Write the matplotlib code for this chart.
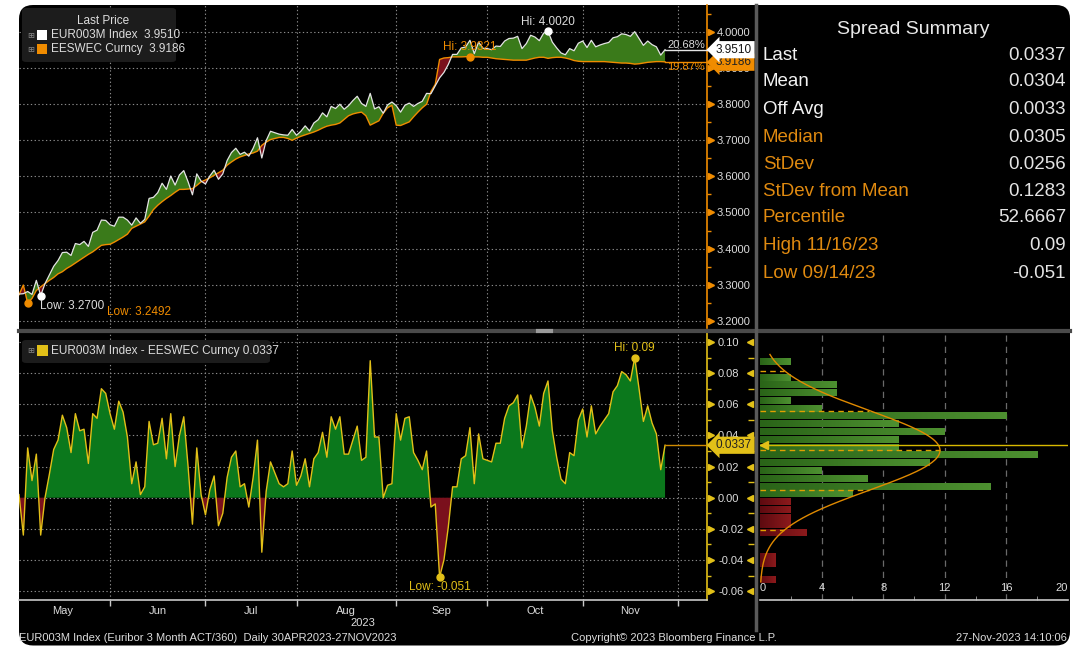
import numpy as np
import pandas as pd
import matplotlib
matplotlib.use("Agg")
import matplotlib.pyplot as plt
from matplotlib.patches import FancyBboxPatch, Rectangle
from matplotlib.lines import Line2D
import matplotlib.transforms as mtransforms
from matplotlib.colors import LinearSegmentedColormap

plt.rcParams['font.family'] = ['Liberation Sans', 'DejaVu Sans']

# ---------------- data ----------------
dates = pd.bdate_range('2023-05-02', '2023-11-27')   # 150 business days

spread = [
    0.002, -0.024, 0.032, 0.011, 0.028, -0.024, 0.000, 0.015, 0.031, 0.037,
    0.053, 0.045, 0.029, 0.054, 0.043, 0.044, 0.022, 0.054, 0.051, 0.070,
    0.067, 0.054, 0.044, 0.062, 0.055, 0.039, 0.009, 0.023, 0.002, 0.007,
    0.049, 0.034, 0.035, 0.051, 0.025, 0.054, 0.020, 0.040, 0.052, 0.020,
    -0.017, 0.032, 0.002, -0.011, 0.005, 0.014, -0.018, -0.010, 0.013, 0.026,
    0.030, 0.007, 0.009, -0.006, 0.013, 0.037, -0.035, 0.004, 0.023, 0.016,
    0.009, 0.007, 0.009, 0.030, 0.008, 0.014, 0.025, 0.007, 0.025, 0.029,
    0.042, 0.026, 0.052, 0.044, 0.052, 0.028, 0.028, 0.037, 0.046, 0.024,
    0.026, 0.088, 0.039, 0.039, 0.000, 0.008, 0.009, 0.054, 0.037, 0.051,
    0.052, 0.029, 0.024, 0.018, 0.030, -0.006, -0.004, -0.051, -0.040, -0.019,
    0.007, 0.007, 0.025, 0.027, 0.045, 0.009, 0.041, 0.025, 0.024, 0.023,
    0.035, 0.035, 0.051, 0.059, 0.061, 0.066, 0.032, 0.046, 0.066, 0.058,
    0.046, 0.067, 0.075, 0.043, 0.026, 0.012, 0.009, 0.029, 0.027, 0.050,
    0.057, 0.039, 0.059, 0.041, 0.046, 0.050, 0.054, 0.068, 0.072, 0.081,
    0.079, 0.075, 0.090, 0.070, 0.049, 0.059, 0.048, 0.041, 0.018, 0.0337,
]

eeswec = [
    3.272, 3.299, 3.2492, 3.262, 3.284, 3.294, 3.303, 3.312, 3.320, 3.330,
    3.336, 3.345, 3.352, 3.360, 3.368, 3.376, 3.384, 3.391, 3.400, 3.409,
    3.411, 3.412, 3.418, 3.425, 3.432, 3.440, 3.456, 3.462, 3.468, 3.474,
    3.490, 3.508, 3.520, 3.530, 3.539, 3.547, 3.556, 3.564, 3.564, 3.565,
    3.566, 3.575, 3.585, 3.590, 3.596, 3.603, 3.610, 3.617, 3.631, 3.640,
    3.648, 3.654, 3.658, 3.662, 3.665, 3.670, 3.686, 3.695, 3.702, 3.705,
    3.708, 3.708, 3.705, 3.700, 3.706, 3.711, 3.715, 3.719, 3.723, 3.728,
    3.734, 3.739, 3.742, 3.744, 3.748, 3.758, 3.768, 3.773, 3.776, 3.778,
    3.768, 3.742, 3.748, 3.754, 3.775, 3.790, 3.797, 3.742, 3.741, 3.746,
    3.751, 3.765, 3.778, 3.790, 3.800, 3.835, 3.855, 3.924, 3.928, 3.929,
    3.931, 3.931, 3.931, 3.9315, 3.9321, 3.931, 3.931, 3.930, 3.930, 3.928,
    3.926, 3.925, 3.924, 3.923, 3.922, 3.922, 3.922, 3.922, 3.925, 3.928,
    3.930, 3.930, 3.927, 3.929, 3.930, 3.930, 3.928, 3.925, 3.921, 3.919,
    3.918, 3.918, 3.918, 3.918, 3.918, 3.918, 3.917, 3.916, 3.915, 3.914,
    3.914, 3.913, 3.911, 3.912, 3.914, 3.916, 3.917, 3.918, 3.918, 3.9173,
]

months = ['May', 'Jun', 'Jul', 'Aug', 'Sep', 'Oct', 'Nov']
top_yticks = [3.2, 3.3, 3.4, 3.5, 3.6, 3.7, 3.8, 3.9, 4.0]
bot_yticks = [-0.06, -0.04, -0.02, 0.00, 0.02, 0.04, 0.06, 0.08, 0.10]

hist_bin_lo = [-0.055, -0.050, -0.045, -0.040, -0.035, -0.030, -0.025, -0.020, -0.015, -0.010,
               -0.005, 0.000, 0.005, 0.010, 0.015, 0.020, 0.025, 0.030, 0.035, 0.040,
               0.045, 0.050, 0.055, 0.060, 0.065, 0.070, 0.075, 0.080, 0.085]
hist_counts = [1, 0, 1, 1, 0, 0, 3, 2, 2, 2,
               2, 6, 15, 7, 4, 11, 18, 9, 9, 12,
               9, 16, 4, 2, 5, 5, 2, 0, 2]
hist_xticks = [0, 4, 8, 12, 16, 20]
hist_grid = [4, 8, 12, 16]

summary_labels = ['Last', 'Mean', 'Off Avg', 'Median', 'StDev', 'StDev from Mean',
                  'Percentile', 'High 11/16/23', 'Low 09/14/23']
summary_values = ['0.0337', '0.0304', '0.0033', '0.0305', '0.0256', '0.1283',
                  '52.6667', '0.09', '-0.051']
spread_mean = 0.0304
spread_std = 0.0256

legend_top = ['EUR003M Index  3.9510', 'EESWEC Curncy  3.9186']
legend_bot = 'EUR003M Index - EESWEC Curncy 0.0337'
pct_labels = ['20.68%', '19.87%']
eeswec_last_label = '3.9186'

# ---------------- styles ----------------
W, H = 1089, 646
BG = 'black'
ORANGE = '#f08c00'
AMBER = '#e08a10'
YELLOW = '#e2c018'
WHITE_LINE = '#e4e4e4'
TXT = '#dcdcdc'
GRID = '#8a8a8a'
TOP_GREEN = '#3a7a1a'
BOT_GREEN = '#0b781c'
RED = '#7a101c'


def fx(px):
    return px / W


def fy(py):
    return 1 - py / H


fig = plt.figure(figsize=(W / 100, H / 100), dpi=100)
fig.patch.set_facecolor('white')

bg = FancyBboxPatch((0.19, 0.005), 10.51, 6.405,
                    boxstyle='round,pad=0,rounding_size=0.14',
                    transform=fig.dpi_scale_trans, fc=BG, ec='none', zorder=-10)
fig.add_artist(bg)

x = np.arange(len(spread))
sp = np.array(spread)
org = np.array(eeswec)
eur = org + sp

ext = pd.bdate_range('2023-05-02', '2023-12-01')
firsts = [int(np.where(ext.month == m)[0][0]) for m in [6, 7, 8, 9, 10, 11, 12]]
bounds = [f - 1 for f in firsts]
edges = [-1] + bounds
label_pos = [(edges[i] + edges[i + 1]) / 2 for i in range(len(months))]

XMAX = (707 - 19) / 4.336
TOP_YLIM = (3.180, 4.0748)
BOT_YLIM = (-0.0657, 0.1058)

# ---------------- top chart ----------------
ax = fig.add_axes([fx(19), fy(328), (707 - 19) / W, (328 - 5) / H])
ax.set_facecolor('none')
ax.fill_between(x, org, eur, where=eur >= org, interpolate=True, color=TOP_GREEN, lw=0, zorder=2)
ax.fill_between(x, org, eur, where=eur < org, interpolate=True, color=RED, lw=0, zorder=2)
ax.plot(x, org, color=ORANGE, lw=1.0, zorder=3)
ax.plot(x, eur, color=WHITE_LINE, lw=0.9, zorder=4)
ax.plot([x[-1], XMAX], [eur[-1], eur[-1]], color=WHITE_LINE, lw=1.0, zorder=4, clip_on=False)
ax.plot([x[-1], XMAX], [org[-1], org[-1]], color=ORANGE, lw=1.0, zorder=3, clip_on=False)
ax.set_xticks(bounds)
ax.tick_params(axis='x', length=0, labelbottom=False)
ax.yaxis.tick_right()
ax.set_yticks(top_yticks, labels=[f'{v:.4f}' for v in top_yticks])
ax.set_yticks([v + 0.05 for v in top_yticks], minor=True)
ax.set_xlim(0, XMAX)
ax.set_ylim(*TOP_YLIM)
ax.tick_params(axis='y', which='major', length=0, pad=7, labelsize=8, labelcolor=TXT)
ax.tick_params(axis='y', which='minor', length=3, width=1, color=ORANGE)
ax.grid(True, which='major', color=GRID, ls=(0, (1.2, 2.2)), lw=0.8)
for s in ['left', 'top', 'bottom']:
    ax.spines[s].set_visible(False)
ax.spines['right'].set_color(ORANGE)
ax.spines['right'].set_linewidth(1.2)
btr = mtransforms.blended_transform_factory(ax.transAxes, ax.transData)
ax.plot([1.006] * len(top_yticks), top_yticks, ls='none', marker='>', ms=4,
        color=ORANGE, transform=btr, clip_on=False, zorder=5)

# hi / low annotations
i_hi = int(np.argmax(eur)); i_lo = int(np.argmin(eur))
j_hi = int(np.argmax(org)); j_lo = int(np.argmin(org))
ax.plot(i_hi, eur[i_hi], 'o', color='white', ms=5, zorder=6)
ax.annotate(f'Hi: {eur[i_hi]:.4f}', (i_hi, eur[i_hi]), xytext=(0, 3), textcoords='offset pixels',
            ha='center', va='bottom', fontsize=8.5, color=TXT, zorder=6)
ax.plot(j_hi, org[j_hi], 'o', color=ORANGE, ms=5, zorder=6)
ax.annotate(f'Hi: {org[j_hi]:.4f}', (j_hi, org[j_hi]), xytext=(0, 4), textcoords='offset pixels',
            ha='center', va='bottom', fontsize=8.5, color=ORANGE, zorder=6)
ax.plot(i_lo, eur[i_lo], 'o', color='white', ms=5, zorder=6, clip_on=False)
ax.annotate(f'Low: {eur[i_lo]:.4f}', (i_lo, eur[i_lo]), xytext=(-1, -4), textcoords='offset pixels',
            ha='left', va='top', fontsize=8.5, color=TXT, zorder=6)
ax.plot(j_lo, org[j_lo], 'o', color=ORANGE, ms=5, zorder=6, clip_on=False)
ax.annotate(f'Low: {org[j_lo]:.4f}', (j_lo, org[j_lo]), xytext=(79, -3), textcoords='offset pixels',
            ha='left', va='top', fontsize=8.5, color=ORANGE, zorder=6)

ax.text(0.997, eur[-1], pct_labels[0], transform=btr, ha='right', va='bottom',
        fontsize=8, color=TXT, zorder=6)
ax.text(0.997, org[-1], pct_labels[1], transform=btr, ha='right', va='top',
        fontsize=8, color=ORANGE, zorder=6)
ax.text(1.013, eur[-1], f'{eur[-1]:.4f}', transform=btr, ha='left', va='center', fontsize=8.5,
        color='#111111', zorder=8, clip_on=False,
        bbox=dict(boxstyle='larrow,pad=0.22', fc='white', ec='none'))
ax.text(1.013, org[-1] - 0.001, eeswec_last_label, transform=btr, ha='left', va='center', fontsize=8.5,
        color='#222222', zorder=7, clip_on=False,
        bbox=dict(boxstyle='larrow,pad=0.22', fc=ORANGE, ec='none'))

# ---------------- bottom chart ----------------
ab = fig.add_axes([fx(19), fy(600), (707 - 19) / W, (600 - 333) / H])
ab.set_facecolor('none')
ab.fill_between(x, 0, sp, where=sp >= 0, interpolate=True, color=BOT_GREEN, lw=0, zorder=2)
ab.fill_between(x, 0, sp, where=sp < 0, interpolate=True, color=RED, lw=0, zorder=2)
ab.plot(x, sp, color=YELLOW, lw=1.0, zorder=3)
ab.plot([x[-1], XMAX], [sp[-1], sp[-1]], color='#d08a00', lw=1.0, zorder=3, clip_on=False)
ab.set_xticks(bounds)
ab.set_xticks(label_pos, labels=months, minor=True)
ab.tick_params(axis='x', which='major', length=4, width=1, color='#c8c8c8', labelbottom=False)
ab.tick_params(axis='x', which='minor', length=0, pad=4, labelsize=8, labelcolor=TXT)
ab.yaxis.tick_right()
ab.set_yticks(bot_yticks, labels=[f'{v:.2f}' for v in bot_yticks])
ab.set_yticks([v + 0.01 for v in bot_yticks[:-1]], minor=True)
ab.set_xlim(0, XMAX)
ab.set_ylim(*BOT_YLIM)
ab.tick_params(axis='y', which='major', length=0, pad=8, labelsize=8, labelcolor=TXT)
ab.tick_params(axis='y', which='minor', length=3, width=1, color=YELLOW)
ab.grid(True, which='major', axis='both', color=GRID, ls=(0, (1.2, 2.2)), lw=0.8)
for s in ['left', 'top']:
    ab.spines[s].set_visible(False)
ab.spines['right'].set_color(YELLOW)
ab.spines['right'].set_linewidth(1.2)
ab.spines['bottom'].set_color('#c8c8c8')
ab.spines['bottom'].set_linewidth(1.2)
btb = mtransforms.blended_transform_factory(ab.transAxes, ab.transData)
ab.plot([1.006] * len(bot_yticks), bot_yticks, ls='none', marker='>', ms=4,
        color=YELLOW, transform=btb, clip_on=False, zorder=5)
ab.plot([1.063] * len(bot_yticks), bot_yticks, ls='none', marker='<', ms=4,
        color=YELLOW, transform=btb, clip_on=False, zorder=5)
ab.plot([1.064] * (len(bot_yticks) - 1), [v + 0.01 for v in bot_yticks[:-1]], ls='none',
        marker='_', ms=4, color=YELLOW, transform=btb, clip_on=False, zorder=5)

k_hi = int(np.argmax(sp)); k_lo = int(np.argmin(sp))
ab.plot(k_hi, sp[k_hi], 'o', color=YELLOW, ms=5, zorder=6)
ab.annotate(f'Hi: {sp[k_hi]:.2f}', (k_hi, sp[k_hi]), xytext=(0, 4), textcoords='offset pixels',
            ha='center', va='bottom', fontsize=8.5, color=YELLOW, zorder=6)
ab.plot(k_lo, sp[k_lo], 'o', color=YELLOW, ms=5, zorder=6)
ab.annotate(f'Low: {sp[k_lo]:.3f}', (k_lo, sp[k_lo]), xytext=(0, -4), textcoords='offset pixels',
            ha='center', va='top', fontsize=8.5, color=YELLOW, zorder=6)
ab.text(1.013, sp[-1], f'{sp[-1]:.4f}', transform=btb, ha='left', va='center', fontsize=8.5,
        color='#222222', zorder=8, clip_on=False,
        bbox=dict(boxstyle='larrow,pad=0.22', fc=YELLOW, ec='none'))

# ---------------- histogram ----------------
ah = fig.add_axes([fx(760), fy(600), (1068 - 760) / W, (600 - 333) / H])
ah.set_facecolor('none')
bw = 0.005
lo = np.array(hist_bin_lo)
cnt = np.array(hist_counts)
cols = ['#3c7d22' if v >= 0 else '#7a1016' for v in lo]
bars = ah.barh(lo + bw / 2, cnt, height=bw * 0.9, color=cols, lw=0, zorder=2)
cmap_g = LinearSegmentedColormap.from_list('g', ['#2a6418', '#4d9030'])
cmap_r = LinearSegmentedColormap.from_list('r', ['#5e0a10', '#8c1a1c'])
grad = np.linspace(0, 1, 64).reshape(1, -1)
for b, l0, c in zip(bars, lo, cnt):
    if c == 0:
        continue
    im = ah.imshow(grad, extent=[0, c, l0, l0 + bw], cmap=cmap_g if l0 >= 0 else cmap_r,
                   aspect='auto', origin='lower', zorder=2.5, interpolation='bilinear')
    im.set_clip_path(b)
for g in hist_grid:
    ah.axvline(g, color='#6a6a6a', ls=(0, (5, 4)), lw=0.9, zorder=1)
yy = np.linspace(-0.054, 0.092, 300)
n_obs = cnt.sum()
pdf = lambda v: n_obs * bw / (spread_std * np.sqrt(2 * np.pi)) * np.exp(-0.5 * ((v - spread_mean) / spread_std) ** 2)
ah.plot(pdf(yy), yy, color='#e08a00', lw=1.0, zorder=4)
for k in [-2, -1, 0, 1, 2]:
    yv = spread_mean + k * spread_std
    ah.plot([0, pdf(yv)], [yv, yv], color='#e0a000', ls=(0, (4, 3)), lw=1.0, zorder=4)
ah.axhline(sp[-1], color='#d8b800', lw=1.0, zorder=5)
ah.plot([0.25], [sp[-1]], marker='<', ms=6, color=YELLOW, zorder=6)
ah.set_yticks([])
ah.set_xticks(hist_xticks, labels=[str(v) for v in hist_xticks])
ah.set_xticks([2, 6, 10, 14, 18], minor=True)
ah.set_xlim(0, 20)
ah.set_ylim(*BOT_YLIM)
ah.tick_params(axis='x', which='major', direction='in', length=0, pad=-12, labelsize=8, labelcolor=TXT)
ah.tick_params(axis='x', which='minor', direction='in', length=3, color='#a0a0a0')
tl = ah.get_xticklabels()
tl[0].set_ha('left')
tl[-1].set_ha('right')
for s in ['left', 'top', 'right']:
    ah.spines[s].set_visible(False)
ah.spines['bottom'].set_color('#c8c8c8')
ah.spines['bottom'].set_linewidth(1.2)

# ---------------- dividers ----------------
fig.add_artist(Line2D([fx(19), fx(1070)], [fy(330.5), fy(330.5)], color='#4a4a4a', lw=3, zorder=3))
fig.add_artist(Line2D([fx(538), fx(551)], [fy(330.5), fy(330.5)], color='#9a9a9a', lw=3, zorder=3))
fig.add_artist(Line2D([fx(756), fx(756)], [fy(5), fy(630)], color='#5a5a5a', lw=2.5, zorder=3))

# ---------------- legends ----------------
fig.add_artist(FancyBboxPatch((fx(22), fy(62)), 154 / W, 54 / H, boxstyle='round,pad=0,rounding_size=0.004',
                              transform=fig.transFigure, fc='#1c1c1c', ec='none', zorder=4))
fig.text(fx(103), fy(21), 'Last Price', ha='center', va='center', fontsize=8.5, color=TXT, zorder=5)
for row, (lab, c) in enumerate(zip(legend_top, ['white', ORANGE])):
    yc = 35 + row * 14
    fig.text(fx(31), fy(yc), '⊞', ha='center', va='center', fontsize=6, color='#8a8a8a',
             family='DejaVu Sans', zorder=5)
    fig.add_artist(Rectangle((fx(37), fy(yc + 5)), 10 / W, 10 / H, transform=fig.transFigure,
                             fc=c, ec='none', zorder=5))
    fig.text(fx(51), fy(yc), lab, ha='left', va='center', fontsize=8.5, color=TXT, zorder=5)

fig.add_artist(FancyBboxPatch((fx(22), fy(363)), 248 / W, 23 / H, boxstyle='round,pad=0,rounding_size=0.004',
                              transform=fig.transFigure, fc='#1c1c1c', ec='none', zorder=4))
fig.text(fx(31), fy(351), '⊞', ha='center', va='center', fontsize=6, color='#8a8a8a',
         family='DejaVu Sans', zorder=5)
fig.add_artist(Rectangle((fx(37), fy(356)), 11 / W, 11 / H, transform=fig.transFigure,
                         fc=YELLOW, ec='none', zorder=5))
fig.text(fx(51), fy(351), legend_bot, ha='left', va='center', fontsize=8.5, color=TXT, zorder=5)

# ---------------- summary panel ----------------
fig.text(fx(913), fy(30), 'Spread Summary', ha='center', va='center', fontsize=14, color='#e8e8e8')
row_y = [56, 82, 110, 137, 164, 191, 218, 246, 273]
for i, (lab, val) in enumerate(zip(summary_labels, summary_values)):
    c = '#f2f2f2' if i < 3 else AMBER
    fig.text(fx(763), fy(row_y[i]), lab, ha='left', va='center', fontsize=13.5, color=c)
    fig.text(fx(1066), fy(row_y[i]), val, ha='right', va='center', fontsize=13.5, color='#e4e4e4')

# ---------------- footer ----------------
fig.text(fx(363), fy(623), '2023', ha='center', va='center', fontsize=8, color=TXT)
fig.text(fx(19), fy(638), 'EUR003M Index (Euribor 3 Month ACT/360)  Daily 30APR2023-27NOV2023',
         ha='left', va='center', fontsize=8, color=TXT)
fig.text(fx(571), fy(638), 'Copyright\u00a9 2023 Bloomberg Finance L.P.', ha='left', va='center',
         fontsize=8, color=TXT)
fig.text(fx(1067), fy(638), '27-Nov-2023 14:10:06', ha='right', va='center', fontsize=8, color=TXT)

fig.savefig('out.png', dpi=100, facecolor=fig.get_facecolor())
